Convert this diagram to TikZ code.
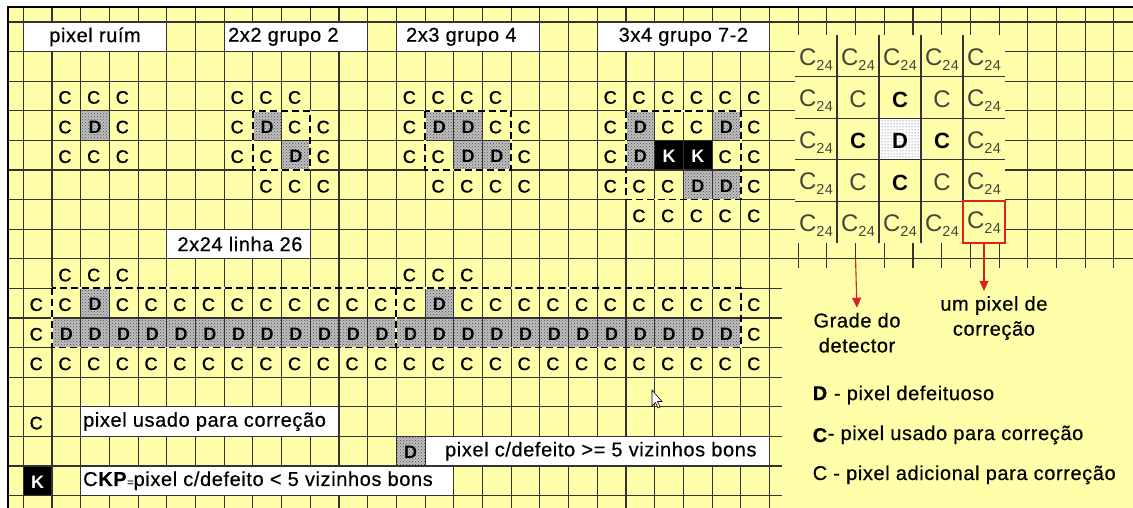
\documentclass[tikz,border=0pt]{standalone}
\usepackage{fontspec}
\setmainfont{Liberation Sans}[LetterSpace=3]
\newfontfamily\labelfont{Liberation Sans}[LetterSpace=3, FakeBold=0.5]
\newfontfamily\cellfont{Liberation Sans}[FakeBold=1.2]
\usetikzlibrary{arrows.meta, positioning, patterns}
\definecolor{paper}{HTML}{FFFFAA}
\definecolor{gridcol}{HTML}{333333}
\definecolor{c24col}{HTML}{45453A}
\definecolor{markred}{HTML}{E02020}

\newcommand{\Cgrid}{{\fontsize{24}{24}\selectfont C}\raisebox{-5pt}{\fontsize{14.5}{14.5}\selectfont 24}}

\begin{document}
\begin{tikzpicture}[
    x=28.7pt, y=-29.6pt,
    cc/.style={font=\cellfont\fontsize{18}{18}\selectfont, inner sep=0pt},
    dd/.style={font=\fontsize{18}{18}\selectfont\bfseries, inner sep=0pt},
    kk/.style={font=\fontsize{18}{18}\selectfont\bfseries, text=white, inner sep=0pt},
    dotcell/.style={fill=gray!50, postaction={pattern=crosshatch dots, pattern color=black!70}},
    lbl/.style={font=\labelfont\fontsize{20}{25}\selectfont, inner sep=0pt},
    labelbox/.style={fill=white, draw=gridcol, line width=1.1pt},
    groupbox/.style={draw=black, line width=1.8pt, dash pattern=on 7pt off 4pt, preaction={draw=paper, solid, line width=1.8pt}},
    gridln/.style={draw=gridcol, line width=1.1pt},
    c24/.style={text=c24col, inner sep=0pt},
    thinc/.style={text=c24col, inner sep=0pt, font=\fontsize{24}{24}\selectfont},
    boldc/.style={inner sep=0pt, font=\fontsize{22}{22}\selectfont\bfseries},
    redarrow/.style={draw=markred, line width=1.1pt, -{Triangle[width=9pt,length=10pt]}, shorten >=5pt}
]
\useasboundingbox (-0.8118,-0.7432) rectangle (38.666,16.419);
\fill[white] (-0.8118,-0.7432) rectangle (38.666,16.419);
\fill[paper] (-0.533,-0.507) rectangle (38.666,16.419);

% -- shaded and black cells --
\foreach \i/\j in {2/3, 8/3,9/4, 14/3,15/3,15/4,16/4, 21/3,24/3,21/4,23/5,24/5, 2/9,14/9, 13/14}
    \fill[dotcell] (\i,\j) rectangle ++(1,1);
\foreach \i in {1,...,24}
    \fill[dotcell] (\i,10) rectangle ++(1,1);
\foreach \i/\j in {22/4,23/4,0/15}
    \fill[black] (\i,\j) rectangle ++(1,1);

% -- grid --
\foreach \i in {0,...,38}
    \draw[gridln] (\i,-0.507) -- (\i,16.419);
\foreach \j in {0,...,16}
    \draw[gridln] (-0.533,\j) -- (38.666,\j);
\draw[line width=2pt] (-0.533,16.419) -- (-0.533,-0.507) -- (38.666,-0.507);

% -- titles --
\draw[labelbox] (0,0) rectangle (5,1);
\node[lbl] (ruim) at (2.5,0.5) {pixel ruím};
\draw[labelbox] (7,0) rectangle (12,1);
\node[lbl, anchor=west] (g22) at (7.13,0.5) {2x2 grupo 2};
\draw[labelbox] (13,0) rectangle (18,1);
\node[lbl, anchor=west] (g23) at (13.33,0.5) {2x3 grupo 4};
\draw[labelbox] (20,0) rectangle (26,1);
\node[lbl] (g34) at (23,0.5) {3x4 grupo 7-2};
\draw[labelbox] (5,7) rectangle (10,8);
\node[lbl] (lin26) at (7.55,7.5) {2x24 linha 26};

% -- dashed groups --
\draw[groupbox] (8,3) rectangle (10,5);
\draw[groupbox] (14,3) rectangle (17,5);
\draw[groupbox] (21,3) rectangle (25,6);
\draw[groupbox] (1,9) rectangle (13,11);
\draw[groupbox] (13,9) rectangle (25,11);

% -- C pixels --
\foreach \i/\j in {1/2,2/2,3/2,1/3,3/3,1/4,2/4,3/4,
    7/2,8/2,9/2,7/3,9/3,10/3,7/4,8/4,10/4,8/5,9/5,10/5,
    13/2,14/2,15/2,16/2,13/3,16/3,17/3,13/4,14/4,17/4,14/5,15/5,16/5,17/5,
    20/2,21/2,22/2,23/2,24/2,25/2,20/3,22/3,23/3,25/3,20/4,24/4,25/4,
    20/5,21/5,22/5,25/5,21/6,22/6,23/6,24/6,25/6,
    1/8,2/8,3/8,13/8,14/8,15/8,0/9,1/9,0/10,25/10,0/13}
    \node[cc] (c\i-\j) at (\i+.45,\j+.55) {C};
\foreach \i in {3,...,13,15,16,...,25}
    \node[cc] (c\i-9) at (\i+.45,9.55) {C};
\foreach \i in {0,...,25}
    \node[cc] (c\i-11) at (\i+.45,11.55) {C};

% -- D and K pixels --
\foreach \i/\j in {2/3, 8/3,9/4, 14/3,15/3,15/4,16/4, 21/3,24/3,21/4,23/5,24/5, 2/9,14/9, 13/14}
    \node[dd] (d\i-\j) at (\i+.5,\j+.55) {D};
\foreach \i in {1,...,24}
    \node[dd] (d\i-10) at (\i+.5,10.55) {D};
\foreach \i/\j in {22/4,23/4,0/15}
    \node[kk] (k\i-\j) at (\i+.5,\j+.55) {K};

% -- bottom legend --
\draw[labelbox] (2,13) rectangle (11,14);
\node[lbl, anchor=west] (usado) at (2.08,13.5) {pixel usado para correção};
\draw[labelbox] (14,14) rectangle (26,15);
\node[lbl, anchor=west] (bons) at (14.69,14.5) {pixel c/defeito >= 5 vizinhos bons};
\draw[labelbox] (2,15) rectangle (15,16);
\node[lbl, anchor=west] (ckp) at (2.08,15.5) {C\textbf{KP}{\fontsize{11}{11}\selectfont =}pixel c/defeito < 5 vizinhos bons};

% -- detector panel --
\begin{scope}[shift={(771.7pt,-13pt)}, x=42pt, y=-41.6pt]
    \fill[paper] (0,0) rectangle (5,5);
    \fill[white, postaction={pattern=dots, pattern color=black!75}] (2,2) rectangle (3,3);
    \foreach \k in {1,...,4} {
        \draw[gridln] (\k,0) -- (\k,5);
        \draw[gridln] (0,\k) -- (5,\k);
    }
    \foreach \i/\j in {0/0,1/0,2/0,3/0,4/0,0/1,4/1,0/2,4/2,0/3,4/3,0/4,1/4,2/4,3/4}
        \node[c24] (p\i-\j) at (\i+.5,\j+.58) {\Cgrid};
    \node[c24, draw=markred, line width=2pt, minimum width=42pt, minimum height=41.6pt] (redcell) at (4.5,4.5) {\raisebox{-3pt}{\Cgrid}};
    \foreach \i/\j in {1/1,3/1,1/3,3/3}
        \node[thinc] (p\i-\j) at (\i+.5,\j+.55) {C};
    \foreach \i/\j in {2/1,1/2,3/2,2/3}
        \node[boldc] (p\i-\j) at (\i+.5,\j+.55) {C};
    \node[boldc] (p2-2) at (2.5,2.55) {D};
\end{scope}

% -- notes --
\fill[paper] (26.435,8.311) rectangle (38.666,16.419);
\coordinate (gtop) at (29,8);
\node[lbl, align=center] (grade) at (29.05,10.5) {Grade do\\detector};
\node[lbl, align=center] (umpix) at (33.82,10.0) {um pixel de\\correção};
\draw[redarrow] (gtop) -- (grade.north);
\draw[redarrow] (redcell.south) -- (redcell.south |- umpix.north);

\node[lbl, anchor=west] (legd) at (27.5,12.6) {\textbf{D} - pixel defeituoso};
\node[lbl, anchor=west] (legc) at (27.5,13.95) {\raisebox{-2pt}{\textbf{C}}- pixel usado para correção};
\node[lbl, anchor=west] (legca) at (27.5,15.3) {C - pixel adicional para correção};

% -- mouse pointer --
\begin{scope}[shift={(628.7pt,-368pt)}, x=1pt, y=-1pt]
    \draw[fill=white, line width=0.6pt] (0,0) -- (0,16) -- (3.5,12.5) -- (6,18) -- (8,17) -- (5.5,11.5) -- (10,11.5) -- cycle;
\end{scope}

\end{tikzpicture}
\end{document}
